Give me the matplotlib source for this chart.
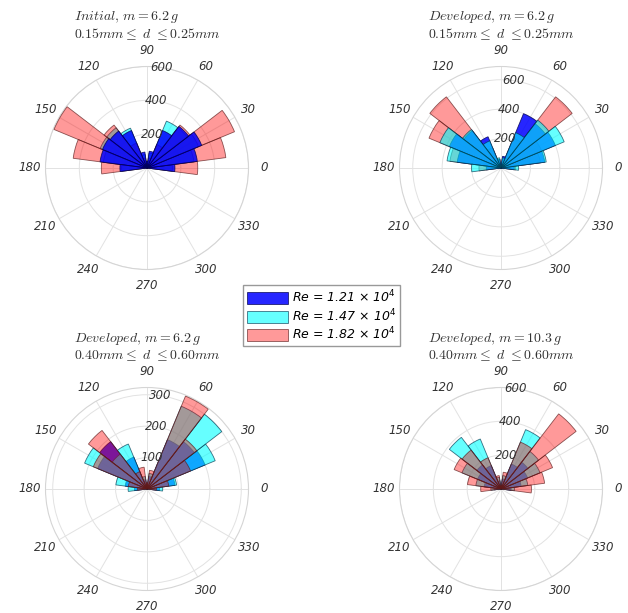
import numpy as np
import matplotlib
matplotlib.use('Agg')
import matplotlib.pyplot as plt
from matplotlib.font_manager import FontProperties

# bin centres (deg), 15 deg wide bins
bin_deg = np.arange(0, 181, 15)
theta_labels = [str(a) for a in range(0, 360, 30)]

# Initial, m = 6.2 g, 0.15-0.25 mm
p1_re121 = [165, 300, 350, 310, 240, 100, 40, 95, 240, 275, 285, 280, 160]
p1_re147 = [150, 280, 330, 300, 300, 90, 30, 80, 255, 300, 300, 260, 150]
p1_re182 = [300, 470, 560, 320, 150, 60, 20, 60, 160, 320, 595, 440, 270]

# Developed, m = 6.2 g, 0.15-0.25 mm
p2_re121 = [90, 300, 400, 380, 400, 80, 20, 60, 230, 320, 380, 300, 100]
p2_re147 = [120, 310, 465, 410, 260, 70, 20, 70, 200, 330, 450, 370, 200]
p2_re182 = [100, 270, 300, 610, 220, 60, 20, 60, 150, 610, 530, 350, 150]

# Developed, m = 6.2 g, 0.40-0.60 mm
p3_re121 = [40, 90, 200, 190, 170, 40, 15, 30, 110, 190, 170, 70, 40]
p3_re147 = [50, 95, 235, 300, 285, 50, 15, 40, 155, 140, 215, 100, 60]
p3_re182 = [30, 70, 150, 200, 320, 60, 20, 70, 60, 235, 185, 60, 30]

# Developed, m = 10.3 g, 0.40-0.60 mm
p4_re121 = [60, 120, 170, 200, 160, 60, 20, 50, 150, 180, 150, 100, 40]
p4_re147 = [80, 160, 250, 280, 380, 80, 20, 70, 320, 385, 250, 150, 60]
p4_re182 = [180, 260, 330, 560, 300, 100, 20, 80, 200, 290, 300, 200, 120]

re_labels = [r'Re = 1.21 $\times$ 10$^{4}$',
             r'Re = 1.47 $\times$ 10$^{4}$',
             r'Re = 1.82 $\times$ 10$^{4}$']

titles = [r'$\mathit{Initial},\, m = 6.2\,g$' + '\n' + r'$0.15mm \leq\ d\ \leq 0.25mm$',
          r'$\mathit{Developed},\, m = 6.2\,g$' + '\n' + r'$0.15mm \leq\ d\ \leq 0.25mm$',
          r'$\mathit{Developed},\, m = 6.2\,g$' + '\n' + r'$0.40mm \leq\ d\ \leq 0.60mm$',
          r'$\mathit{Developed},\, m = 10.3\,g$' + '\n' + r'$0.40mm \leq\ d\ \leq 0.60mm$']

plt.rcParams['font.family'] = ['DejaVu Sans']
plt.rcParams['mathtext.fontset'] = 'dejavusans'

colors = [(0.0, 0.0, 1.0, 0.85), (0.0, 1.0, 1.0, 0.6), (1.0, 0.0, 0.0, 0.4)]
edges = [(0.0, 0.0, 0.3, 0.8), (0.0, 0.2, 0.3, 0.7), (0.35, 0.1, 0.1, 0.7)]

panels = [
    dict(data=[p1_re121, p1_re147, p1_re182], rmax=600, rticks=[200, 400, 600],
         order=[1, 2, 0], pos=(147, 168)),
    dict(data=[p2_re121, p2_re147, p2_re182], rmax=690, rticks=[200, 400, 600],
         order=[2, 0, 1], pos=(501, 168)),
    dict(data=[p3_re121, p3_re147, p3_re182], rmax=323, rticks=[100, 200, 300],
         order=[0, 1, 2], pos=(147, 489)),
    dict(data=[p4_re121, p4_re147, p4_re182], rmax=600, rticks=[200, 400, 600],
         order=[0, 1, 2], pos=(501, 489)),
]

W, H = 628, 613
R = 101.5
fig = plt.figure(figsize=(W / 100, H / 100), dpi=100)

handles = None
for i, p in enumerate(panels):
    cx, cy = p['pos']
    ax = fig.add_axes([(cx - R) / W, 1 - (cy + R) / H, 2 * R / W, 2 * R / H],
                      projection='polar')
    theta = np.deg2rad(bin_deg)
    bars = [None, None, None]
    for z, k in enumerate(p['order']):
        bars[k] = ax.bar(theta, p['data'][k], width=np.deg2rad(15), bottom=0,
                         facecolor=colors[k], edgecolor=edges[k], linewidth=0.6,
                         zorder=3 + z, label=re_labels[k])
    if handles is None:
        handles = bars
    ax.set_rlim(0, p['rmax'])
    ax.set_rticks(p['rticks'])
    ax.set_rlabel_position(82)
    ax.set_thetagrids(np.arange(0, 360, 30), theta_labels)
    ax.grid(color='#e2e2e2', linewidth=0.7)
    ax.spines['polar'].set_color('#d5d5d5')
    ax.spines['polar'].set_linewidth(0.8)
    ax.tick_params(axis='x', pad=1, labelsize=8.5, labelcolor='#333333')
    ax.tick_params(axis='y', labelsize=8.5, labelcolor='#333333')
    for lab in ax.get_xticklabels() + ax.get_yticklabels():
        lab.set_fontstyle('italic')
    # radial labels drawn above the bars, as in the original
    for r in p['rticks']:
        ax.text(np.deg2rad(82), r, str(r), fontsize=8.5, fontstyle='italic',
                color='#333333', ha='center', va='center', zorder=20)
    ax.set_yticklabels([])
    ax.text(0.5, 1.2, titles[i], transform=ax.transAxes, ha='center',
            va='center', multialignment='left', fontsize=10, color='#333333',
            math_fontfamily='cm', linespacing=1.1)

leg_font = FontProperties(style='italic', size=9)
fig.legend(handles, re_labels, loc='center', bbox_to_anchor=(321.5 / W, 1 - 315.5 / H),
           prop=leg_font, handlelength=3.3, handleheight=1.1, handletextpad=0.3,
           labelspacing=0.15, borderpad=0.3, fancybox=False, edgecolor='#999999',
           framealpha=1)

plt.savefig('out.png', dpi=100)
